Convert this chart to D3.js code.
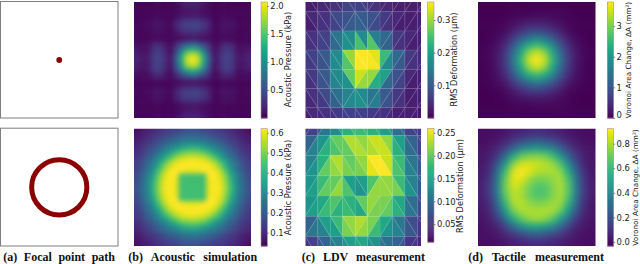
<!DOCTYPE html>
<html>
<head>
<meta charset="utf-8">
<script src="https://cdn.jsdelivr.net/npm/d3@7"></script>
<style>
html,body{margin:0;padding:0;background:#fff;}
svg{display:block;}
</style>
</head>
<body>
<div id="chart"></div>
<script>
// acoustic simulation, top row (kPa)
const acousticTop = [
[.03,.03,.03,.03,.05,.03,.03,.06,.12,.18,.20,.18,.12,.06,.03,.03,.05,.03,.03,.03,.03],
[.03,.03,.03,.03,.03,.03,.03,.05,.08,.11,.12,.11,.08,.05,.03,.03,.03,.03,.03,.03,.03],
[.03,.03,.03,.04,.05,.03,.03,.05,.09,.12,.14,.12,.09,.05,.03,.03,.05,.04,.03,.03,.03],
[.03,.03,.04,.08,.09,.06,.03,.17,.29,.35,.35,.35,.29,.17,.03,.06,.09,.08,.04,.03,.03],
[.05,.03,.05,.09,.10,.08,.03,.20,.33,.40,.42,.40,.33,.20,.03,.08,.10,.09,.05,.03,.05],
[.04,.03,.03,.06,.08,.05,.03,.12,.21,.26,.27,.26,.21,.12,.03,.05,.08,.06,.03,.03,.04],
[.03,.03,.03,.03,.03,.03,.03,.04,.06,.08,.10,.08,.06,.04,.03,.03,.03,.03,.03,.03,.03],
[.06,.05,.05,.17,.20,.12,.04,.20,.35,.50,.60,.50,.35,.20,.04,.12,.20,.17,.05,.05,.06],
[.12,.08,.09,.29,.33,.21,.06,.35,.75,1.1,1.25,1.1,.75,.35,.06,.21,.33,.29,.09,.08,.12],
[.18,.11,.12,.35,.40,.26,.08,.50,1.1,1.7,1.9,1.7,1.1,.50,.08,.26,.40,.35,.12,.11,.18],
[.20,.12,.14,.35,.42,.27,.10,.60,1.25,1.9,2.07,1.9,1.25,.60,.10,.27,.42,.35,.14,.12,.20],
[.18,.11,.12,.35,.40,.26,.08,.50,1.1,1.7,1.9,1.7,1.1,.50,.08,.26,.40,.35,.12,.11,.18],
[.12,.08,.09,.29,.33,.21,.06,.35,.75,1.1,1.25,1.1,.75,.35,.06,.21,.33,.29,.09,.08,.12],
[.06,.05,.05,.17,.20,.12,.04,.20,.35,.50,.60,.50,.35,.20,.04,.12,.20,.17,.05,.05,.06],
[.03,.03,.03,.03,.03,.03,.03,.04,.06,.08,.10,.08,.06,.04,.03,.03,.03,.03,.03,.03,.03],
[.04,.03,.03,.06,.08,.05,.03,.12,.21,.26,.27,.26,.21,.12,.03,.05,.08,.06,.03,.03,.04],
[.05,.03,.05,.09,.10,.08,.03,.20,.33,.40,.42,.40,.33,.20,.03,.08,.10,.09,.05,.03,.05],
[.03,.03,.04,.08,.09,.06,.03,.17,.29,.35,.35,.35,.29,.17,.03,.06,.09,.08,.04,.03,.03],
[.03,.03,.03,.04,.05,.03,.03,.05,.09,.12,.14,.12,.09,.05,.03,.03,.05,.04,.03,.03,.03],
[.03,.03,.03,.03,.03,.03,.03,.05,.08,.11,.12,.11,.08,.05,.03,.03,.03,.03,.03,.03,.03],
[.03,.03,.03,.03,.05,.03,.03,.06,.12,.18,.20,.18,.12,.06,.03,.03,.05,.03,.03,.03,.03]
];
// acoustic simulation, bottom row (kPa)
const acousticBottom = [
[.055,.07,.085,.10,.115,.13,.14,.15,.16,.18,.18,.18,.16,.15,.14,.13,.115,.10,.085,.07,.055],
[.07,.085,.105,.12,.14,.16,.18,.20,.22,.23,.24,.23,.22,.20,.18,.16,.14,.12,.105,.085,.07],
[.085,.105,.125,.15,.18,.21,.24,.26,.29,.30,.31,.30,.29,.26,.24,.21,.18,.15,.125,.105,.085],
[.10,.12,.15,.18,.22,.26,.30,.34,.38,.41,.42,.41,.38,.34,.30,.26,.22,.18,.15,.12,.10],
[.115,.14,.18,.22,.27,.33,.39,.45,.50,.52,.53,.52,.50,.45,.39,.33,.27,.22,.18,.14,.115],
[.13,.16,.21,.26,.33,.41,.49,.55,.59,.60,.61,.60,.59,.55,.49,.41,.33,.26,.21,.16,.13],
[.14,.18,.24,.30,.39,.49,.57,.61,.62,.62,.62,.62,.62,.61,.57,.49,.39,.30,.24,.18,.14],
[.15,.20,.26,.34,.45,.55,.61,.62,.62,.60,.60,.60,.62,.62,.61,.55,.45,.34,.26,.20,.15],
[.16,.22,.29,.38,.50,.59,.62,.62,.44,.44,.44,.44,.44,.62,.62,.59,.50,.38,.29,.22,.16],
[.18,.23,.30,.41,.52,.60,.62,.60,.44,.44,.44,.44,.44,.60,.62,.60,.52,.41,.30,.23,.18],
[.18,.24,.31,.42,.53,.61,.62,.60,.44,.44,.44,.44,.44,.60,.62,.61,.53,.42,.31,.24,.18],
[.18,.23,.30,.41,.52,.60,.62,.60,.44,.44,.44,.44,.44,.60,.62,.60,.52,.41,.30,.23,.18],
[.16,.22,.29,.38,.50,.59,.62,.62,.44,.44,.44,.44,.44,.62,.62,.59,.50,.38,.29,.22,.16],
[.15,.20,.26,.34,.45,.55,.61,.62,.62,.60,.60,.60,.62,.62,.61,.55,.45,.34,.26,.20,.15],
[.14,.18,.24,.30,.39,.49,.57,.61,.62,.62,.62,.62,.62,.61,.57,.49,.39,.30,.24,.18,.14],
[.13,.16,.21,.26,.33,.41,.49,.55,.59,.60,.61,.60,.59,.55,.49,.41,.33,.26,.21,.16,.13],
[.115,.14,.18,.22,.27,.33,.39,.45,.50,.52,.53,.52,.50,.45,.39,.33,.27,.22,.18,.14,.115],
[.10,.12,.15,.18,.22,.26,.30,.34,.38,.41,.42,.41,.38,.34,.30,.26,.22,.18,.15,.12,.10],
[.085,.105,.125,.15,.18,.21,.24,.26,.29,.30,.31,.30,.29,.26,.24,.21,.18,.15,.125,.105,.085],
[.07,.085,.105,.12,.14,.16,.18,.20,.22,.23,.24,.23,.22,.20,.18,.16,.14,.12,.105,.085,.07],
[.055,.07,.085,.10,.115,.13,.14,.15,.16,.18,.18,.18,.16,.15,.14,.13,.115,.10,.085,.07,.055]
];
// tactile measurement, top row (mm2)
const tactileTop = [
[0,0,0,0,0,.01,.02,.02,.02,.01,0,0,0,0,0],
[0,0,0,.01,.01,.03,.05,.07,.08,.07,.05,.03,.01,0,0],
[0,0,.02,.04,.10,.17,.24,.25,.24,.17,.10,.04,.02,0,0],
[0,0,.04,.10,.25,.45,.62,.68,.62,.45,.25,.10,.04,0,0],
[0,.03,.10,.25,.55,.95,1.3,1.5,1.3,.95,.55,.25,.10,.03,0],
[.01,.05,.17,.45,.95,1.7,2.25,2.5,2.25,1.7,.95,.45,.17,.05,.01],
[.02,.07,.24,.62,1.3,2.25,3.1,3.5,3.1,2.25,1.3,.62,.24,.07,.02],
[.02,.08,.25,.68,1.5,2.5,3.5,3.79,3.5,2.5,1.5,.68,.25,.08,.02],
[.02,.07,.24,.62,1.3,2.25,3.1,3.5,3.1,2.25,1.3,.62,.24,.07,.02],
[.01,.05,.17,.45,.95,1.7,2.25,2.5,2.25,1.7,.95,.45,.17,.05,.01],
[0,.03,.10,.25,.55,.95,1.3,1.5,1.3,.95,.55,.25,.10,.03,0],
[0,0,.04,.10,.25,.45,.62,.68,.62,.45,.25,.10,.04,0,0],
[0,0,.02,.04,.10,.17,.24,.25,.24,.17,.10,.04,.02,0,0],
[0,0,0,.01,.01,.03,.05,.07,.08,.07,.05,.03,.01,0,0],
[0,0,0,0,0,.01,.02,.02,.02,.01,0,0,0,0,0]
];
// tactile measurement, bottom row (mm2)
const tactileBottom = [
[.00,.00,.01,.02,.04,.06,.08,.09,.08,.06,.04,.02,.01,.00,.00],
[.00,.01,.03,.06,.11,.17,.21,.23,.21,.17,.11,.06,.03,.01,.00],
[.01,.03,.07,.15,.26,.38,.45,.47,.44,.38,.26,.15,.07,.03,.01],
[.02,.05,.13,.31,.52,.68,.73,.74,.72,.63,.46,.28,.13,.05,.02],
[.03,.08,.23,.48,.74,.86,.86,.84,.82,.78,.65,.43,.21,.07,.02],
[.04,.10,.32,.63,.86,.92,.88,.82,.80,.80,.76,.56,.29,.10,.03],
[.05,.13,.37,.70,.88,.88,.78,.72,.72,.76,.80,.65,.35,.12,.04],
[.05,.14,.38,.71,.85,.81,.72,.65,.66,.73,.80,.68,.37,.13,.04],
[.05,.13,.36,.68,.82,.80,.71,.65,.66,.73,.80,.66,.36,.12,.04],
[.04,.10,.30,.60,.80,.82,.76,.73,.74,.78,.78,.60,.32,.10,.03],
[.03,.08,.23,.49,.71,.80,.81,.80,.81,.80,.70,.48,.24,.08,.03],
[.02,.05,.14,.33,.54,.68,.76,.79,.76,.67,.50,.32,.14,.05,.02],
[.01,.03,.07,.16,.30,.43,.51,.53,.50,.42,.29,.16,.07,.03,.01],
[.00,.01,.03,.07,.12,.18,.23,.25,.22,.18,.12,.07,.03,.01,.00],
[.00,.00,.01,.02,.04,.06,.08,.09,.08,.06,.04,.02,.01,.00,.00]
];
// LDV triangles, two values per grid cell (um)
const ldvTop = [
[.03,.03,.04,.04,.05,.05,.07,.07,.07,.07,.06,.05,.04,.04,.03,.03,.03,.03,.03,.03],
[.03,.04,.05,.05,.07,.08,.09,.10,.11,.10,.09,.08,.06,.05,.04,.03,.03,.03,.03,.03],
[.05,.05,.07,.07,.12,.14,.18,.17,.25,.17,.26,.15,.12,.11,.06,.05,.04,.03,.03,.03],
[.06,.07,.09,.10,.17,.17,.26,.30,.37,.37,.35,.34,.24,.17,.12,.10,.06,.05,.04,.03],
[.05,.06,.09,.10,.16,.17,.18,.27,.33,.30,.30,.22,.20,.12,.09,.07,.04,.03,.03,.03],
[.04,.05,.06,.08,.11,.13,.16,.17,.18,.17,.14,.15,.10,.09,.06,.05,.03,.03,.03,.03],
[.03,.04,.04,.05,.05,.06,.07,.07,.07,.07,.06,.05,.05,.04,.03,.03,.03,.03,.02,.02]
];
const ldvBottom = [
[.05,.06,.08,.11,.13,.16,.17,.18,.18,.18,.17,.17,.15,.15,.10,.09,.06,.06,.05,.05],
[.09,.12,.14,.17,.19,.20,.20,.23,.23,.22,.23,.24,.24,.22,.17,.15,.10,.09,.06,.06],
[.12,.14,.17,.20,.22,.23,.21,.20,.21,.22,.25,.26,.26,.24,.19,.18,.12,.11,.08,.08],
[.14,.15,.18,.20,.20,.22,.19,.15,.14,.15,.19,.22,.22,.22,.21,.18,.14,.12,.08,.08],
[.14,.15,.16,.18,.19,.17,.18,.17,.16,.20,.22,.21,.21,.20,.17,.16,.11,.10,.07,.07],
[.09,.11,.12,.15,.15,.18,.21,.22,.23,.22,.21,.18,.16,.14,.12,.11,.08,.07,.05,.05],
[.05,.06,.08,.09,.11,.12,.14,.15,.16,.16,.14,.14,.11,.10,.09,.08,.05,.05,.04,.04]
];
// n = "\" diagonal, p = "/" diagonal
const ldvTopDiag = ["nnnnnpppppp","nnnpnpppppp","nnnnnnppppp","nnnnnnppppp","nnnnpppppp","nnnpnpppppp","nnnnnpppppp"];
const ldvBottomDiag = ["ppnnnnnnnn","ppnnnnnnnn","ppnnnnnnnn","pppnnpnnnn","pppnnppnnn","pnnnpppnnn","nnnnnnnppp"];

// colorbars: domain low, domain high, ticks, labels
const barDomains = {b0:[0,2.07],b1:[.033,.62],c0:[0,.355],c1:[.011,.26],d0:[0,3.79],d1:[-.033,.922]};
const barTicks = {b0:[.5,1,1.5,2],b1:[.1,.2,.3,.4,.5,.6],c0:[.1,.2,.3],c1:[.05,.1,.15,.2,.25],d0:[0,1,2,3],d1:[0,.2,.4,.6,.8]};
const barFormats = {b0:".1f",b1:".1f",c0:".1f",c1:".2f",d0:"d",d1:".1f"};
const barTitles = {b0:"Acoustic Pressure (kPa)",b1:"Acoustic Pressure (kPa)",c0:"RMS Deformation (µm)",c1:"RMS Deformation (µm)",d0:"Voronoi Area Change, ΔA (mm²)",d1:"Voronoi Area Change, ΔA (mm²)"};
const captions = ["(a) Focal point path","(b) Acoustic simulation","(c) LDV measurement","(d) Tactile measurement"];
const captionX = [[3.3,115],[128.3,257.3],[301.7,425],[468.3,604]];
const focalRadius = .47;

const width=640,height=264;
const svg=d3.select("#chart").append("svg").attr("width",width).attr("height",height);
const defs=svg.append("defs");

const rowY=[[2,118],[128.7,246]];
const colX={a:[.5,118],b:[134,251],c:[305.3,421],d:[478,595.5]};
const barX={b:261,c:427.7,d:607.3};
const barW=6.3;

function colorFor(dom){
    return d3.scaleSequential(d3.interpolateViridis).domain(dom);
}

function clipFor(id,x,y,w,h){
    defs.append("clipPath").attr("id",id).append("rect").attr("x",x).attr("y",y).attr("width",w).attr("height",h);
    return "url(#"+id+")";
}

function blurFilter(id,sd,xr,yr){
    let f=defs.append("filter").attr("id","blur"+id)
        .attr("filterUnits","userSpaceOnUse")
        .attr("x",xr[0]-25).attr("y",yr[0]-25)
        .attr("width",xr[1]-xr[0]+50).attr("height",yr[1]-yr[0]+50)
        .attr("color-interpolation-filters","sRGB");
    f.append("feGaussianBlur").attr("stdDeviation",sd);
    return "url(#blur"+id+")";
}

function drawHeat(id,values,dom,xr,yr,sd){
    let n=values.length;
    let x=d3.scaleBand().domain(d3.range(n)).range(xr);
    let y=d3.scaleBand().domain(d3.range(n)).range(yr);
    let color=colorFor(dom);
    let g=svg.append("g").attr("clip-path",clipFor("clip"+id,xr[0],yr[0],xr[1]-xr[0],yr[1]-yr[0]))
        .append("g").attr("filter",blurFilter(id,sd,xr,yr));
    // edge cells run past the panel so the blur does not fade at the border
    values.forEach((row,j)=>{
        g.selectAll(null).data(row).enter().append("rect")
            .attr("x",(d,i)=>x(i)-(i==0?20:0))
            .attr("y",y(j)-(j==0?20:0))
            .attr("width",(d,i)=>x.bandwidth()+(i==0||i==n-1?20:0)+.5)
            .attr("height",y.bandwidth()+(j==0||j==n-1?20:0)+.5)
            .attr("fill",d=>color(d));
    });
}

function drawMesh(id,values,diag,dom,xr,yr,rowStart,rowStep){
    let colStep=12.45;
    let x=d3.scaleLinear().domain([0,1]).range([xr[0],xr[0]+colStep]);
    let y=d3.scaleLinear().domain([0,1]).range([yr[0]+rowStart,yr[0]+rowStart+rowStep]);
    let color=colorFor(dom);
    let g=svg.append("g").attr("clip-path",clipFor("clip"+id,xr[0],yr[0],xr[1]-xr[0],yr[1]-yr[0]))
        .append("g").attr("filter",blurFilter(id,.35,xr,yr));
    let tris=[];
    values.forEach((row,r)=>{
        for(let c=0;c<row.length/2;c++){
            let tl=[c,r],tr=[c+1,r],bl=[c,r+1],br=[c+1,r+1];
            if(diag[r][c]=="n"){
                tris.push({v:row[c*2],p:[tl,bl,br]});
                tris.push({v:row[c*2+1],p:[tl,tr,br]});
            }else{
                tris.push({v:row[c*2],p:[tl,tr,bl]});
                tris.push({v:row[c*2+1],p:[tr,bl,br]});
            }
        }
    });
    g.selectAll("polygon.fill").data(tris).enter().append("polygon")
        .attr("class","fill")
        .attr("points",d=>d.p.map(q=>x(q[0])+","+y(q[1])).join(" "))
        .attr("fill",d=>color(d.v))
        .attr("stroke",d=>color(d.v)).attr("stroke-width",.3);
    g.selectAll("polygon.edge").data(tris).enter().append("polygon")
        .attr("class","edge")
        .attr("points",d=>d.p.map(q=>x(q[0])+","+y(q[1])).join(" "))
        .attr("fill","none")
        .attr("stroke","rgba(255,255,255,.11)").attr("stroke-width",.7);
}

function drawBar(key,x0,yr){
    let dom=barDomains[key];
    let color=colorFor(dom);
    let y=d3.scaleLinear().domain(dom).range([yr[1],yr[0]]);
    let g=svg.append("g");
    g.selectAll("rect").data(d3.range(0,116)).enter().append("rect")
        .attr("x",x0).attr("width",barW)
        .attr("y",d=>yr[1]-(d+1)*(yr[1]-yr[0])/116)
        .attr("height",(yr[1]-yr[0])/116+.5)
        .attr("fill",d=>color(dom[0]+(d+.5)/116*(dom[1]-dom[0])));
    g.append("rect").attr("x",x0).attr("y",yr[0]).attr("width",barW).attr("height",yr[1]-yr[0])
        .attr("fill","none").attr("stroke","#999").attr("stroke-width",.6);
    let ax=g.append("g").attr("transform","translate("+(x0+barW)+",0)")
        .call(d3.axisRight(y).tickValues(barTicks[key]).tickFormat(d3.format(barFormats[key])).tickSize(1.5).tickPadding(1.5));
    ax.select(".domain").remove();
    ax.selectAll("line").attr("stroke","#333").attr("stroke-width",.6);
    ax.selectAll("text").attr("font-family","DejaVu Sans").attr("font-size",8.4).attr("fill","#222");
    if(key=="d0"){
        ax.selectAll("text").filter(d=>d==0).attr("y",-3.5);
    }
}

function barTitle(key,cx,cy,size){
    svg.append("text").text(barTitles[key])
        .attr("transform","translate("+cx+","+cy+") rotate(-90)")
        .attr("text-anchor","middle").attr("dominant-baseline","central")
        .attr("font-family","DejaVu Sans").attr("font-size",size).attr("fill","#222");
}

// focal point panels
rowY.forEach((yr,i)=>{
    let x=d3.scaleLinear().domain([-1,1]).range(colX.a);
    let y=d3.scaleLinear().domain([-1,1]).range([yr[1],yr[0]]);
    svg.append("rect").attr("x",colX.a[0]).attr("y",yr[0]-.5)
        .attr("width",colX.a[1]-colX.a[0]).attr("height",yr[1]-yr[0]+.5)
        .attr("fill","#fff").attr("stroke","#7f7f7f").attr("stroke-width",1);
    if(i==0){
        svg.append("circle").attr("cx",x(0)).attr("cy",y(0)).attr("r",2.9).attr("fill","#8b0000");
    }else{
        svg.append("circle").attr("cx",x(0)).attr("cy",y(0)).attr("r",x(focalRadius)-x(0))
            .attr("fill","none").attr("stroke","#8b0000").attr("stroke-width",5);
    }
});

drawHeat("b0",acousticTop,barDomains.b0,colX.b,rowY[0],2.8);
drawHeat("b1",acousticBottom,barDomains.b1,colX.b,rowY[1],2.8);
drawHeat("d0",tactileTop,barDomains.d0,colX.d,rowY[0],3);
drawHeat("d1",tactileBottom,barDomains.d1,colX.d,rowY[1],3);
drawMesh("c0",ldvTop,ldvTopDiag,barDomains.c0,colX.c,rowY[0],-9.5,19.2);
drawMesh("c1",ldvBottom,ldvBottomDiag,barDomains.c1,colX.c,rowY[1],-13.5,20.2);

drawBar("b0",barX.b,rowY[0]);
drawBar("b1",barX.b,rowY[1]);
drawBar("c0",barX.c,rowY[0]);
drawBar("c1",barX.c,[128.3,242]);
drawBar("d0",barX.d,rowY[0]);
drawBar("d1",barX.d,rowY[1]);

barTitle("b0",288,59.5,8.2);
barTitle("b1",287.5,187.5,8.2);
barTitle("c0",454,59.5,8.2);
barTitle("c1",460,186,8.2);
barTitle("d0",628,60,7.3);
barTitle("d1",635,187.5,7.3);

// captions are justified in the original, so stretch word gaps to fit
captions.forEach((t,i)=>{
    let el=svg.append("text").text(t).attr("x",captionX[i][0]).attr("y",260.5)
        .attr("font-family","Liberation Serif").attr("font-weight","bold").attr("font-size",12).attr("fill","#111");
    let w=el.node().getComputedTextLength();
    let gaps=t.split(" ").length-1;
    el.attr("word-spacing",(captionX[i][1]-captionX[i][0]-w)/gaps);
});
</script>
</body>
</html>
